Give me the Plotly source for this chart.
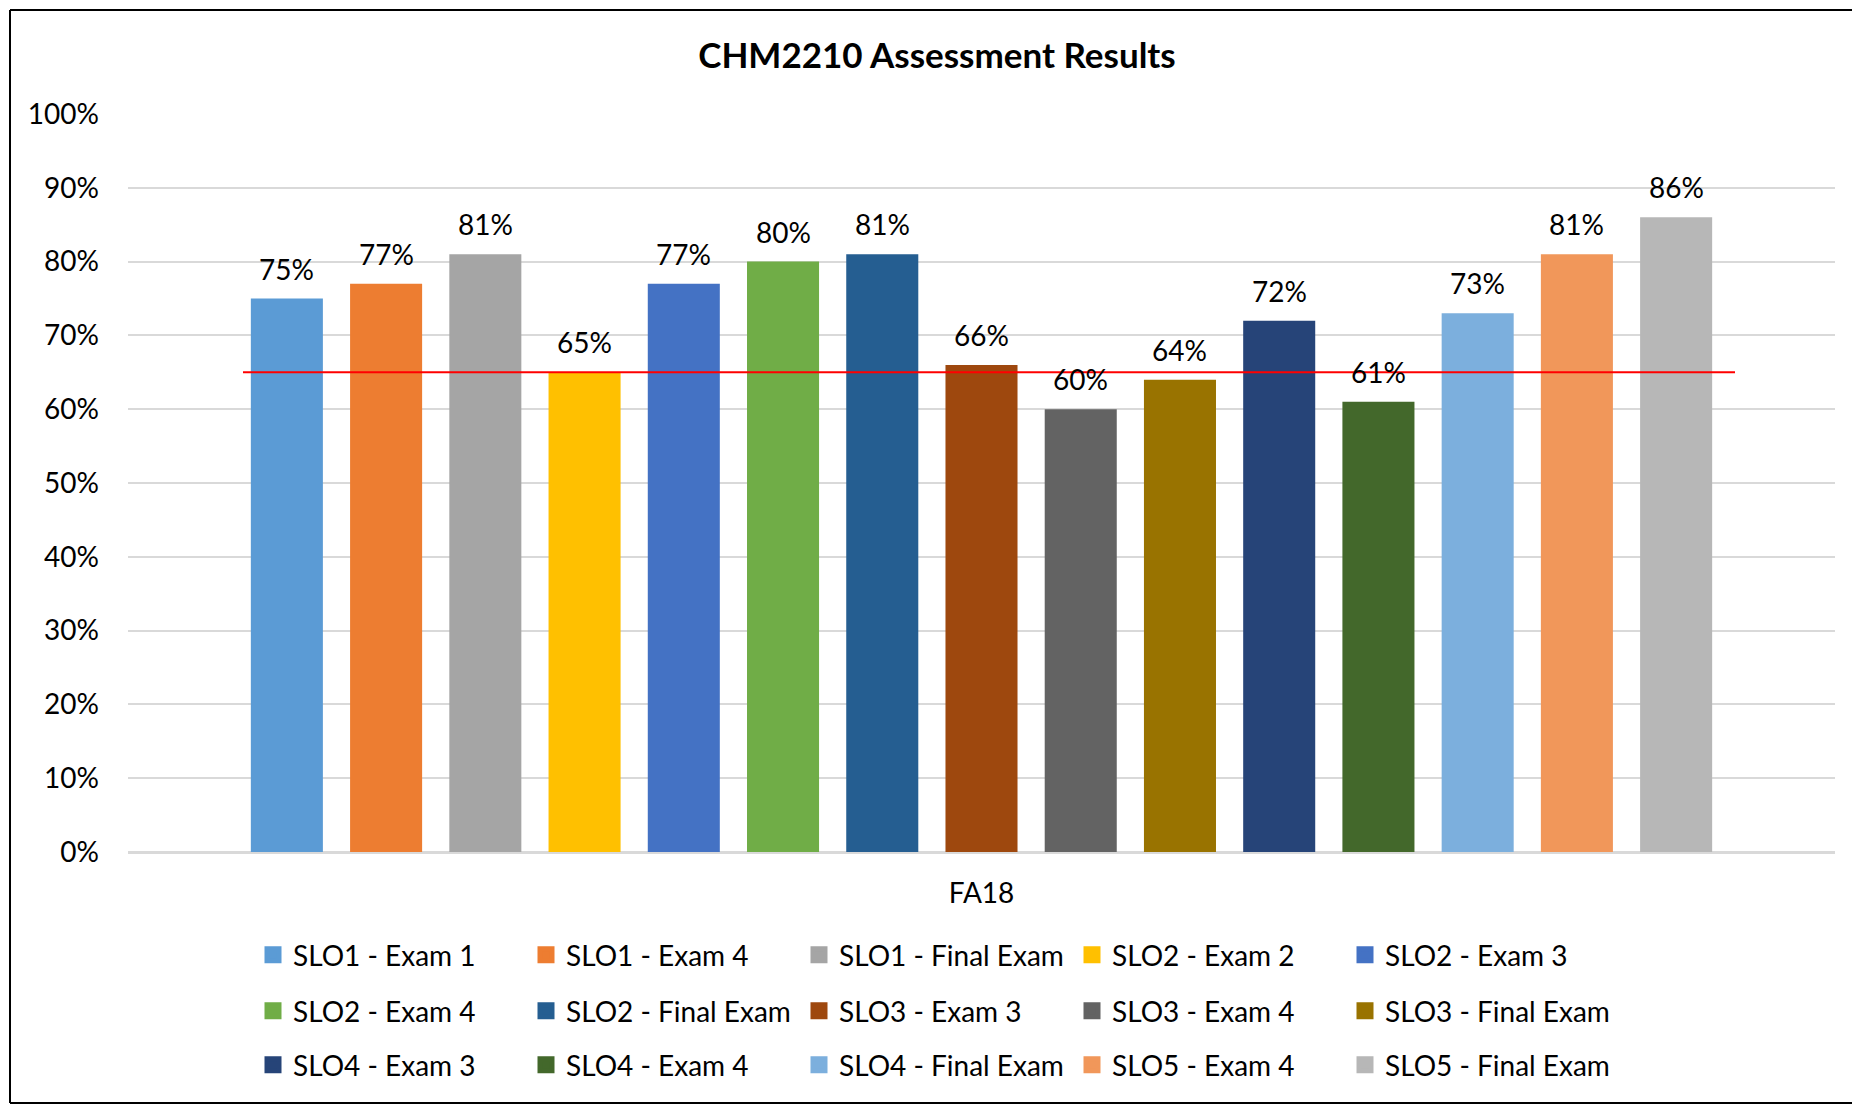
import plotly.graph_objects as go

TITLE = "CHM2210 Assessment Results"
CATEGORY = "FA18"
SERIES = [
    "SLO1 - Exam 1", "SLO1 - Exam 4", "SLO1 - Final Exam", "SLO2 - Exam 2", "SLO2 - Exam 3",
    "SLO2 - Exam 4", "SLO2 - Final Exam", "SLO3 - Exam 3", "SLO3 - Exam 4", "SLO3 - Final Exam",
    "SLO4 - Exam 3", "SLO4 - Exam 4", "SLO4 - Final Exam", "SLO5 - Exam 4", "SLO5 - Final Exam",
]
VALUES_PCT = [75, 77, 81, 65, 77, 80, 81, 66, 60, 64, 72, 61, 73, 81, 86]
COLORS = [
    "#5B9BD5", "#ED7D31", "#A5A5A5", "#FFC000", "#4472C4",
    "#70AD47", "#255E91", "#9E480E", "#636363", "#997300",
    "#264478", "#43682B", "#7CAFDD", "#F1975A", "#B7B7B7",
]
TARGET = 0.65
Y_TICKS = [i / 10 for i in range(11)]

FONT = "Lato, 'Noto Sans', sans-serif"
OFF = 8  # page body margin
W, H = 1860 - OFF, 1105 - OFF
ML, MR, MT, MB = 120, 25, 106, 253
PW, PH = W - ML - MR, H - MT - MB
BARGAP, BARGROUPGAP = 0.128, 0.274
N = len(SERIES)
SLOT = PW * (1 - BARGAP) / N


def px_x(s):
    return (s - OFF - ML) / PW


def px_y(s):
    return (H - MB - (s - OFF)) / PH


fig = go.Figure()
legend_names = ["legend", "legend2", "legend3"]
for i, (name, v, c) in enumerate(zip(SERIES, VALUES_PCT, COLORS)):
    fig.add_trace(go.Bar(
        x=[CATEGORY], y=[v / 100], name=name,
        marker=dict(color=c, line=dict(width=0)),
        showlegend=False, hoverinfo="skip",
    ))
    fig.add_annotation(
        x=CATEGORY, y=v / 100, xref="x", yref="y",
        text=f"{v}%", showarrow=False,
        xanchor="center", yanchor="middle",
        xshift=(i - (N - 1) / 2) * SLOT, yshift=30,
        font=dict(family=FONT, size=28, color="black"),
    )
    # legend entry (drawn with a larger swatch, no data)
    fig.add_trace(go.Bar(
        x=[None], y=[None], name=name, xaxis="x2",
        marker=dict(color=c, line=dict(width=5, color=c)),
        legend=legend_names[i // 5], hoverinfo="skip",
    ))

legend_common = dict(
    orientation="h", entrywidth=228, entrywidthmode="pixels",
    font=dict(family=FONT, size=28, color="black"),
    xanchor="left", yanchor="middle", bgcolor="rgba(0,0,0,0)",
    traceorder="normal", itemclick=False, itemdoubleclick=False,
)
row_y = [955, 1011, 1065]
legend_x = px_x(253)

fig.update_layout(
    width=W, height=H,
    margin=dict(l=ML, r=MR, t=MT, b=MB),
    paper_bgcolor="white", plot_bgcolor="white",
    barmode="group", bargap=BARGAP, bargroupgap=BARGROUPGAP,
    font=dict(family=FONT, size=28, color="black"),
    title=dict(text=f"<b>{TITLE}</b>", x=(937 - OFF) / W, xref="container",
               y=1 - (56 - OFF) / H, yanchor="middle", xanchor="center",
               font=dict(family=FONT, size=35, color="black")),
    legend=dict(legend_common, x=legend_x, y=px_y(row_y[0])),
    legend2=dict(legend_common, x=legend_x, y=px_y(row_y[1])),
    legend3=dict(legend_common, x=legend_x, y=px_y(row_y[2])),
    showlegend=True,
    xaxis2=dict(overlaying="x", visible=False, type="category"),
)
fig.update_layout(xaxis=dict(type="category", showgrid=False, showline=False, zeroline=False,
                             ticks="", ticklabelstandoff=22,
                             tickfont=dict(family=FONT, size=28, color="black")))
fig.update_yaxes(range=[0, 1], tickvals=Y_TICKS, tickformat=".0%",
                 showgrid=True, gridcolor="#D9D9D9", gridwidth=2,
                 zeroline=True, zerolinecolor="#D9D9D9", zerolinewidth=3,
                 showline=False, ticks="", ticklabelstandoff=28,
                 tickfont=dict(family=FONT, size=28, color="black"))

# target line
fig.add_shape(type="line", xref="paper", yref="y",
              x0=px_x(243), x1=px_x(1735), y0=TARGET, y1=TARGET,
              line=dict(color="#FF0000", width=2), layer="above")
# outer chart border: left, top and bottom edges (right edge is off-screen)
bx0, bx1 = px_x(10), px_x(1880)
by_top, by_bot = px_y(10), px_y(1103)
border = dict(color="black", width=2)
fig.add_shape(type="line", xref="paper", yref="paper", x0=bx0, x1=bx0, y0=by_bot, y1=by_top,
              line=border, layer="above")
fig.add_shape(type="line", xref="paper", yref="paper", x0=bx0, x1=bx1, y0=by_top, y1=by_top,
              line=border, layer="above")
fig.add_shape(type="line", xref="paper", yref="paper", x0=bx0, x1=bx1, y0=by_bot, y1=by_bot,
              line=border, layer="above")

fig.write_html("out.html",
               post_script="document.documentElement.style.overflow='hidden';"
                           "document.body.style.overflow='hidden';")
